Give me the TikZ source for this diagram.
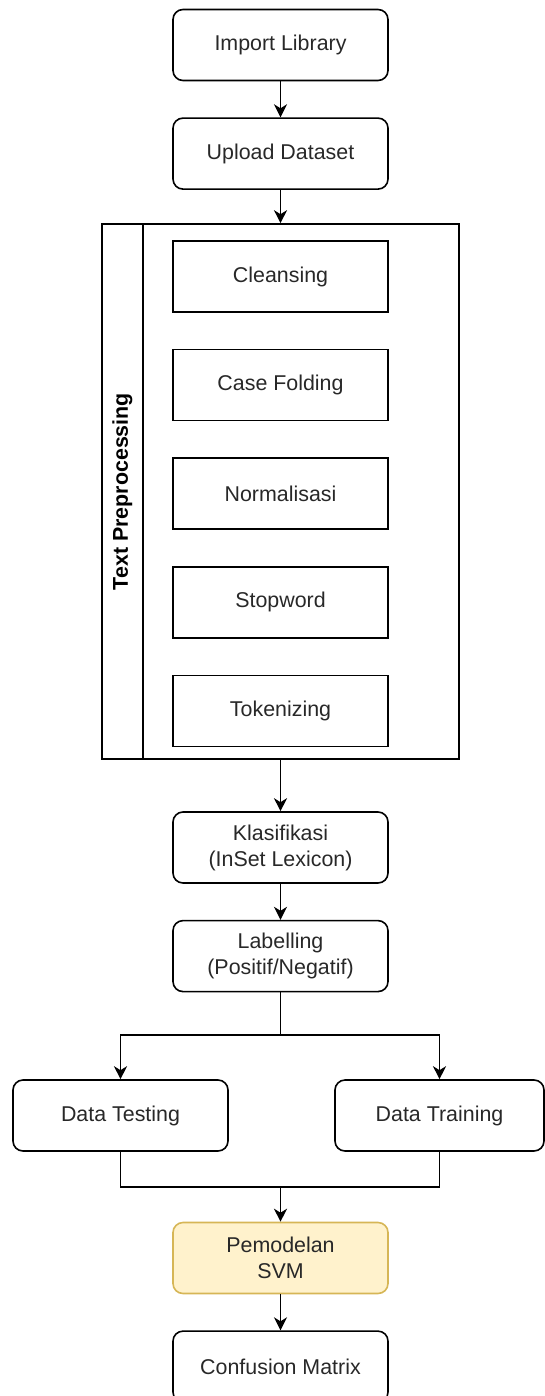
\documentclass[tikz,border=0pt]{standalone}
\usepackage{fontspec}
\setmainfont{Liberation Sans}
\usetikzlibrary{positioning,arrows.meta}
\definecolor{vtext}{RGB}{40,40,40}
\definecolor{vyellow}{RGB}{255,242,204}
\definecolor{vgold}{RGB}{214,182,86}

\begin{document}
\begin{tikzpicture}[x=1pt,y=-1pt,line width=1.6pt,
    font=\fontsize{21.4}{26}\selectfont,
    every node/.style={text=vtext,align=center,inner sep=3pt},
    stepbox/.style={draw,rounded corners=10pt,minimum width=215pt,minimum height=71pt},
    subbox/.style={draw,minimum width=215pt,minimum height=71pt},
    arr/.style={-{Stealth[length=13pt,width=13pt,inset=4pt]}}]
    \useasboundingbox (0,0) rectangle (545,1396);
    \node[stepbox] (imp) at (280.5,45) {Import Library};
    \node[stepbox,below=36pt of imp] (upl) {Upload Dataset};
    % text preprocessing group
    \node[draw,minimum width=357pt,minimum height=535pt,inner sep=0pt] (tp) at (280.5,491.5) {};
    \draw (143,224) -- (143,759);
    \node[rotate=90,font=\fontsize{21.4}{26}\selectfont\bfseries,text=black] (tplabel) at (122.5,491.5) {Text Preprocessing};
    \node[subbox] (cle) at (280.5,276.5) {Cleansing};
    \node[subbox,below=36pt of cle] (cf) {Case Folding};
    \node[subbox,below=36pt of cf] (nor) {Normalisasi};
    \node[subbox,below=36pt of nor] (stw) {Stopword};
    \node[subbox,below=36pt of stw] (tok) {Tokenizing};
    \node[stepbox] (kla) at (280.5,847.5) {Klasifikasi\\(InSet Lexicon)};
    \node[stepbox,below=36pt of kla] (lab) {Labelling\\(Positif/Negatif)};
    \node[stepbox] (dtest) at (120.5,1115.5) {Data Testing};
    \node[stepbox,minimum width=209pt] (dtrain) at (439.5,1115.5) {Data Training};
    \node[stepbox,fill=vyellow,draw=vgold] (svm) at (280.5,1258) {Pemodelan\\SVM};
    \node[stepbox,below=36pt of svm] (cm) {Confusion Matrix};
    \coordinate (split) at (280.5,1035);
    \coordinate (merge) at (280.5,1187);
    \draw[arr] (imp)--(upl);\draw[arr] (upl)--(tp);
    \draw[arr] (tp)--(kla);\draw[arr] (kla)--(lab);
    \draw (lab)--(split);\draw[arr] (split)-|(dtest);\draw[arr] (split)-|(dtrain);
    \draw (dtest)|-(merge);\draw (dtrain)|-(merge);
    \draw[arr] (merge)--(svm);\draw[arr] (svm)--(cm);
  \end{tikzpicture}
\end{document}
